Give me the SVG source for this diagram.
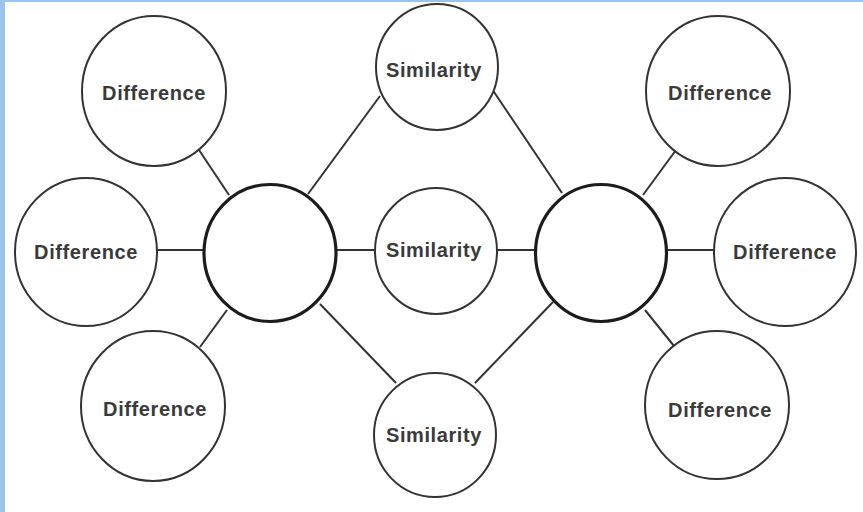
<svg xmlns="http://www.w3.org/2000/svg" width="863" height="512" viewBox="0 0 863 512">
<style>
.node{fill:#fff;stroke:#333;stroke-width:2}
.hub{fill:#fff;stroke:#1c1c1c;stroke-width:3.2}
.lbl{font-family:"Liberation Sans",Arial,sans-serif;font-weight:bold;font-size:20px;fill:#3a3a3a;text-anchor:middle;letter-spacing:0.6px}
.conn line{stroke:#333;stroke-width:2;stroke-linecap:butt}
</style>
<rect x="0" y="0" width="863" height="512" fill="#fff"/>
<rect x="0" y="0" width="5" height="512" fill="#9dc3e8"/>
<rect x="0" y="0" width="863" height="2" fill="#9dc3e8"/>
<g id="connectors" class="conn">
<line x1="199" y1="150" x2="229" y2="195"/>
<line x1="157" y1="250" x2="204" y2="250"/>
<line x1="200" y1="347" x2="227" y2="310"/>
<line x1="308" y1="194" x2="380" y2="96"/>
<line x1="336" y1="250" x2="376" y2="250"/>
<line x1="320" y1="304" x2="396" y2="383"/>
<line x1="492" y1="89" x2="562" y2="193"/>
<line x1="497" y1="250" x2="536" y2="250"/>
<line x1="475" y1="383" x2="553" y2="302"/>
<line x1="643" y1="195" x2="676" y2="150"/>
<line x1="667" y1="250" x2="715" y2="250"/>
<line x1="645" y1="310" x2="674" y2="346"/>
</g>
<g id="diff-top-left"><ellipse class="node" cx="154" cy="91" rx="72" ry="75"/><text class="lbl" x="154" y="100">Difference</text></g>
<g id="diff-left"><ellipse class="node" cx="86" cy="252" rx="71" ry="74"/><text class="lbl" x="86" y="259">Difference</text></g>
<g id="diff-bottom-left"><ellipse class="node" cx="153" cy="406" rx="72" ry="75"/><text class="lbl" x="155" y="416">Difference</text></g>
<g id="hub-left"><ellipse class="hub" cx="270" cy="253" rx="66" ry="68.5"/></g>
<g id="hub-right"><ellipse class="hub" cx="601" cy="253" rx="65.5" ry="68.5"/></g>
<g id="sim-top"><ellipse class="node" cx="437" cy="67" rx="61" ry="63"/><text class="lbl" x="434" y="77">Similarity</text></g>
<g id="sim-mid"><ellipse class="node" cx="436" cy="251" rx="61" ry="63"/><text class="lbl" x="434" y="257">Similarity</text></g>
<g id="sim-bottom"><ellipse class="node" cx="435" cy="435" rx="61" ry="62"/><text class="lbl" x="434" y="442">Similarity</text></g>
<g id="diff-top-right"><ellipse class="node" cx="718" cy="91" rx="72" ry="75"/><text class="lbl" x="720" y="100">Difference</text></g>
<g id="diff-right"><ellipse class="node" cx="785" cy="252" rx="71" ry="74"/><text class="lbl" x="785" y="259">Difference</text></g>
<g id="diff-bottom-right"><ellipse class="node" cx="717" cy="405" rx="72" ry="74"/><text class="lbl" x="720" y="417">Difference</text></g>
</svg>
